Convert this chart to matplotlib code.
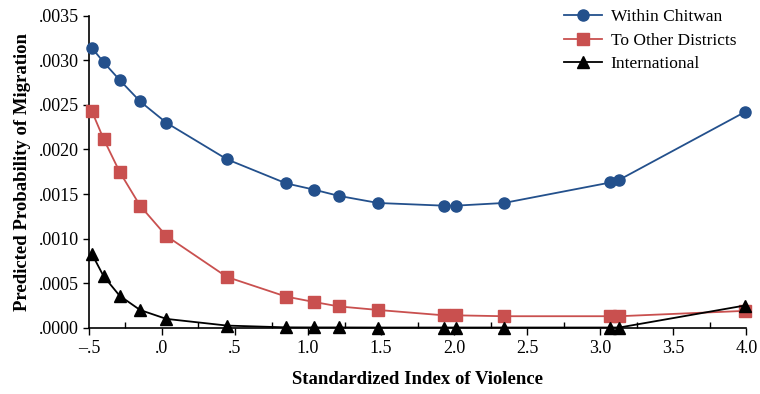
import numpy as np
import matplotlib
matplotlib.use("Agg")
import matplotlib.pyplot as plt
from matplotlib.ticker import FixedLocator, MultipleLocator

# standardized index of violence (same points for all three outcomes)
violence = [-0.48, -0.40, -0.29, -0.15, 0.03, 0.445, 0.85, 1.04, 1.21, 1.48,
            1.93, 2.01, 2.34, 3.07, 3.13, 3.99]

within_chitwan = [0.00314, 0.00298, 0.00278, 0.00254, 0.00230, 0.00189, 0.00162,
                  0.00155, 0.00148, 0.00140, 0.00137, 0.00137, 0.00140, 0.00163,
                  0.00166, 0.00242]
other_districts = [0.00243, 0.00212, 0.00175, 0.00137, 0.00103, 0.00057, 0.00035,
                   0.00029, 0.00024, 0.00020, 0.00014, 0.00014, 0.00013, 0.00013,
                   0.00013, 0.00019]
international = [0.00083, 0.00058, 0.00036, 0.00020, 0.00010, 0.000025, 0.000005,
                 0.000004, 0.000004, 0.000003, 0.000003, 0.000003, 0.000003,
                 0.000003, 0.000003, 0.00025]

x_ticks = [-0.5, 0.0, 0.5, 1.0, 1.5, 2.0, 2.5, 3.0, 3.5, 4.0]
x_labels = ["\u2013.5", ".0", ".5", "1.0", "1.5", "2.0", "2.5", "3.0", "3.5", "4.0"]
y_ticks = [0.0, 0.0005, 0.0010, 0.0015, 0.0020, 0.0025, 0.0030, 0.0035]
y_labels = [".0000", ".0005", ".0010", ".0015", ".0020", ".0025", ".0030", ".0035"]

plt.rcParams['font.family'] = ['Liberation Serif', 'DejaVu Serif']

fig = plt.figure(figsize=(7.6, 3.94), dpi=100)
ax = fig.add_axes([0.117, 0.168, 0.865, 0.792])

blue = "#23508c"
red = "#c9504f"

ax.plot(violence, within_chitwan, color=blue, marker="o", markersize=8, lw=1.3,
        label="Within Chitwan", clip_on=False, zorder=3)
ax.plot(violence, other_districts, color=red, marker="s", markersize=8, lw=1.3,
        label="To Other Districts", clip_on=False, zorder=3)
ax.plot(violence, international, color="black", marker="^", markersize=8, lw=1.3,
        label="International", clip_on=False, zorder=4)

ax.set_xlim(-0.5, 4.0)
ax.set_ylim(0, 0.0035)
ax.xaxis.set_major_locator(FixedLocator(x_ticks))
ax.set_xticklabels(x_labels)
ax.xaxis.set_minor_locator(MultipleLocator(0.25))
ax.set_yticks(y_ticks)
ax.set_yticklabels(y_labels)

ax.tick_params(axis="x", which="major", direction="out", length=5, width=1, labelsize=13, pad=4)
ax.tick_params(axis="x", which="minor", direction="in", length=4, width=1)
ax.tick_params(axis="y", which="major", direction="out", length=4, width=1, labelsize=13, pad=3)

for side in ["top", "right"]:
    ax.spines[side].set_visible(False)
ax.spines["left"].set_linewidth(1.2)
ax.spines["bottom"].set_linewidth(1.2)

ax.set_xlabel("Standardized Index of Violence", fontsize=13.5, fontweight="bold", labelpad=10)
ax.set_ylabel("Predicted Probability of Migration", fontsize=13.5, fontweight="bold", labelpad=6)

ax.legend(loc="upper right", bbox_to_anchor=(0.995, 1.043), frameon=False, fontsize=12.5,
          handlelength=2.2, handletextpad=0.5, labelspacing=0.41, borderaxespad=0)

fig.savefig("out.png", dpi=100)
